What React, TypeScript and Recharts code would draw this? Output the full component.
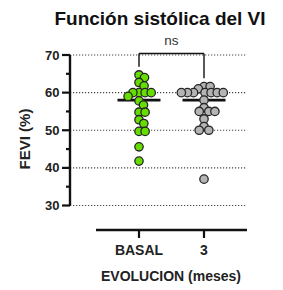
import React from "react";
import { ScatterChart, Scatter, XAxis, YAxis, ReferenceLine } from "recharts";

const categories = ["BASAL", "3"];
const basalValues = [64.7, 64, 62.7, 61.8, 60, 60, 60, 60, 59, 57.8, 56.7, 54.8, 54.8, 52.8, 51.8, 49.7, 49.7, 45.6, 41.8];
const mes3Values = [61.6, 61.6, 61, 60, 60, 60, 60, 60, 60, 60, 58, 56, 55, 55, 55, 53, 51, 50, 50, 37];
const medians = [58, 58];
const yTicks = [30, 35, 40, 45, 50, 55, 60, 65, 70];
const gridValues = [30, 40, 50, 60, 70];
const bracketTop = 70.4;
const bracketLegEnds = [66.9, 63.8];

const W = 283;
const H = 290;
const M = { top: 55, right: 36, bottom: 24.5, left: 30 };
const Y_AXIS_W = 40;
const X_AXIS_H = 60;
const Y_DOMAIN: [number, number] = [30, 70];
const X_DOMAIN: [number, number] = [-0.0615, 2.6615];
const plotW = W - M.left - M.right - Y_AXIS_W;
const plotH = H - M.top - M.bottom - X_AXIS_H;
const pxPerY = plotH / (Y_DOMAIN[1] - Y_DOMAIN[0]);
const pxPerX = plotW / (X_DOMAIN[1] - X_DOMAIN[0]);
const R = 4.2;
const D = 6.1;
const FONT = "'Liberation Sans', Arial, sans-serif";

function swarm(values: number[]): number[] {
  const order = values.map((_, i) => i).sort((a, b) => values[b] - values[a]);
  const placed: { x: number; y: number }[] = [];
  const offsets = new Array(values.length).fill(0);
  for (const i of order) {
    const y = values[i] * pxPerY;
    const cands = [0];
    for (const p of placed) {
      const dy = Math.abs(p.y - y);
      if (dy < D) {
        const dx = Math.sqrt(D * D - dy * dy);
        cands.push(p.x + dx, p.x - dx);
      }
    }
    cands.sort((a, b) => Math.abs(a) - Math.abs(b));
    for (const c of cands) {
      if (placed.every((p) => (p.x - c) ** 2 + (p.y - y) ** 2 >= D * D - 1e-6)) {
        offsets[i] = c;
        placed.push({ x: c, y });
        break;
      }
    }
  }
  return offsets;
}

function toPoints(values: number[], catIndex: number) {
  const off = swarm(values);
  return values.map((v, i) => ({ x: catIndex + 1 + off[i] / pxPerX, y: v }));
}

const basalData = toPoints(basalValues, 0);
const mes3Data = toPoints(mes3Values, 1);

const dot = (fill: string) => (props: any) => (
  <circle cx={props.cx} cy={props.cy} r={R} fill={fill} stroke="#262626" strokeWidth={1.3} />
);

const YTick = (props: any) => {
  const { x, y, payload } = props;
  const major = payload.value % 10 === 0;
  return (
    <g>
      <line x1={x - (major ? 8 : 4)} x2={x} y1={y} y2={y} stroke="#111" strokeWidth={2.2} />
      {major && (
        <text x={x - 10.5} y={y} dy={4.6} textAnchor="end" fontSize={13} fontWeight="bold" fill="#222" fontFamily={FONT}>
          {payload.value}
        </text>
      )}
    </g>
  );
};

const XTick = (props: any) => {
  const { x, y, payload } = props;
  return (
    <g>
      <line x1={x} x2={x} y1={y + 24.5} y2={y + 32.5} stroke="#111" strokeWidth={2.2} />
      <text x={x} y={y + 49.5} textAnchor="middle" fontSize={14} fontWeight="bold" fill="#222" fontFamily={FONT}>
        {categories[Math.round(payload.value) - 1]}
      </text>
    </g>
  );
};

const axisLineY = Y_DOMAIN[0] - 24.5 / pxPerY;
const halfMedian = 21.5 / pxPerX;
const axisHalf = 43 / pxPerX;

export default function App() {
  return (
    <div style={{ position: "absolute", left: 0, top: 0, width: W, height: H, background: "#fff" }}>
      <ScatterChart width={W} height={H} margin={M}>
        <XAxis
          type="number"
          dataKey="x"
          domain={X_DOMAIN}
          ticks={[1, 2]}
          allowDataOverflow
          axisLine={false}
          tickLine={false}
          tickSize={0}
          tickMargin={0}
          height={X_AXIS_H}
          tick={<XTick />}
          interval={0}
        />
        <YAxis
          type="number"
          dataKey="y"
          domain={Y_DOMAIN}
          ticks={yTicks}
          width={Y_AXIS_W}
          axisLine={{ stroke: "#111", strokeWidth: 2.4 }}
          tickLine={false}
          tickSize={0}
          tickMargin={0}
          tick={<YTick />}
          interval={0}
        />
        {gridValues.map((g) => (
          <ReferenceLine key={g} y={g} stroke="#444" strokeWidth={1.2} strokeDasharray="1.2 1.8" />
        ))}
        <ReferenceLine
          segment={[{ x: 1 - axisHalf, y: axisLineY }, { x: 2 + axisHalf, y: axisLineY }]}
          ifOverflow="visible"
          stroke="#111"
          strokeWidth={2.4}
        />
        <Scatter data={basalData} shape={dot("#66dd00")} isAnimationActive={false} />
        <Scatter data={mes3Data} shape={dot("#b4b4b4")} isAnimationActive={false} />
        {medians.map((m, i) => (
          <ReferenceLine
            key={"m" + i}
            segment={[{ x: i + 1 - halfMedian, y: m }, { x: i + 1 + halfMedian, y: m }]}
            stroke="#111"
            strokeWidth={2.6}
          />
        ))}
        <ReferenceLine
          segment={[{ x: 1, y: bracketTop }, { x: 2, y: bracketTop }]}
          ifOverflow="visible"
          stroke="#111"
          strokeWidth={1.4}
        />
        {bracketLegEnds.map((e, i) => (
          <ReferenceLine
            key={"b" + i}
            segment={[{ x: i + 1, y: bracketTop }, { x: i + 1, y: e }]}
            ifOverflow="visible"
            stroke="#111"
            strokeWidth={1.4}
          />
        ))}
      </ScatterChart>
      <svg width={W} height={H} style={{ position: "absolute", left: 0, top: 0, pointerEvents: "none" }}>
        <text x={160} y={25} textAnchor="middle" fontSize={19} fontWeight="bold" fill="#111" fontFamily={FONT}>
          Función sistólica del VI
        </text>
        <text x={171.5} y={45} textAnchor="middle" fontSize={13.5} fill="#333" fontFamily={FONT}>
          ns
        </text>
        <text
          x={30}
          y={139}
          textAnchor="middle"
          fontSize={15}
          fontWeight="bold"
          fill="#222"
          fontFamily={FONT}
          transform="rotate(-90 30 139)"
        >
          FEVI (%)
        </text>
        <text x={171} y={281} textAnchor="middle" fontSize={14} fontWeight="bold" fill="#222" fontFamily={FONT}>
          EVOLUCION (meses)
        </text>
      </svg>
    </div>
  );
}
